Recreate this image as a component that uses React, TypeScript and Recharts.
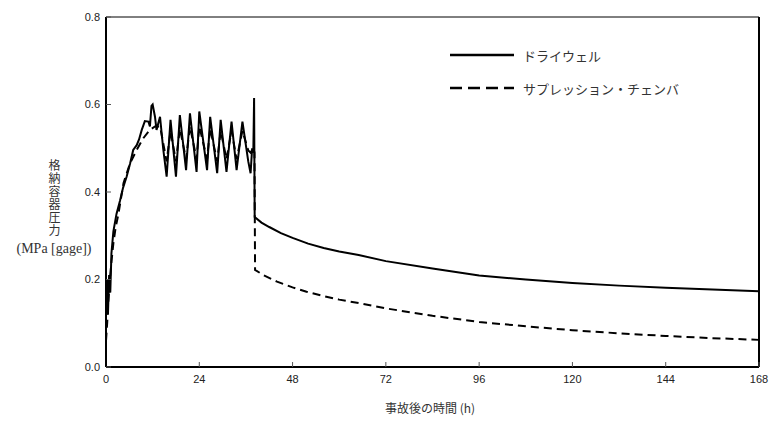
import { LineChart, Line, XAxis, YAxis, ReferenceArea, ReferenceLine, Legend } from "recharts";

// ドライウェル (solid)
const drywellHours = [
  0, 0.3, 0.5, 0.8, 1.1, 1.4, 1.9, 2.7, 3.6, 4.4, 5.3, 6.2, 7.0, 7.9, 8.5, 9.2, 10.0, 10.9, 11.3, 11.7,
  12.0, 12.6, 13.0, 13.9, 14.7, 15.6, 16.6, 18.0, 19.0, 20.6, 21.6, 23.3, 24.0, 26.0, 26.8, 28.6, 29.5,
  31.0, 32.3, 33.6, 35.1, 36.6, 37.2, 37.6, 37.9, 38.1, 38.25, 40, 42, 45, 48, 52, 56, 60, 65, 72, 84,
  96, 108, 120, 132, 144, 156, 168,
];
const drywellPressure = [
  0.13, 0.2, 0.12, 0.21, 0.17, 0.26, 0.31, 0.35, 0.38, 0.41, 0.435, 0.465, 0.496, 0.507, 0.52, 0.542,
  0.562, 0.561, 0.55, 0.597, 0.6, 0.572, 0.542, 0.572, 0.5, 0.435, 0.565, 0.435, 0.576, 0.45, 0.58,
  0.446, 0.584, 0.45, 0.572, 0.443, 0.565, 0.446, 0.561, 0.45, 0.561, 0.47, 0.443, 0.5, 0.49, 0.615,
  0.343, 0.33, 0.32, 0.306, 0.295, 0.282, 0.272, 0.264, 0.256, 0.242, 0.225, 0.209, 0.2, 0.192, 0.186,
  0.181, 0.177, 0.173,
];

// サプレッション・チェンバ (dashed)
const wetwellHours = [
  0, 0.3, 0.6, 1.0, 1.4, 1.9, 2.5, 3.2, 4.5, 6.2, 7.9, 9.6, 11.3, 12.6, 13.9, 15.6, 16.6, 18.0, 19.0,
  20.6, 21.6, 23.3, 24.0, 26.0, 26.8, 28.6, 29.5, 31.0, 32.3, 33.6, 35.1, 36.6, 37.2, 37.9, 38.2, 38.35,
  40.5, 44, 48, 51.6, 56, 60, 65, 72, 84, 96, 108, 120, 132, 144, 156, 168,
];
const wetwellPressure = [
  0.06, 0.1, 0.15, 0.2, 0.24, 0.283, 0.32, 0.35, 0.42, 0.466, 0.496, 0.523, 0.542, 0.55, 0.55, 0.47,
  0.54, 0.47, 0.545, 0.475, 0.55, 0.475, 0.55, 0.475, 0.545, 0.47, 0.54, 0.475, 0.54, 0.475, 0.54,
  0.495, 0.49, 0.5, 0.49, 0.222, 0.21, 0.195, 0.182, 0.172, 0.162, 0.154, 0.146, 0.134, 0.117, 0.103,
  0.093, 0.084, 0.077, 0.071, 0.066, 0.062,
];

const xTicks = [0, 24, 48, 72, 96, 120, 144, 168];
const yTicks = [0, 0.2, 0.4, 0.6, 0.8];
const seriesNames = ["ドライウェル", "サプレッション・チェンバ"];

const drywell = drywellHours.map((t, i) => ({ t, p: drywellPressure[i] }));
const wetwell = wetwellHours.map((t, i) => ({ t, p: wetwellPressure[i] }));

const tickFont = {
  fontFamily: "'Liberation Sans Narrow', 'Arial Narrow', 'Liberation Sans', sans-serif",
  fontSize: 11,
  fill: "#222",
};
const jp = "'Noto Sans CJK JP', sans-serif";

function LegendBox() {
  return (
    <svg width={290} height={62}>
      <line x1={2} y1={13} x2={66} y2={13} stroke="#000" strokeWidth={2.5} />
      <text x={75} y={13} dominantBaseline="central" fontFamily={jp} fontSize={13} fill="#333">
        {seriesNames[0]}
      </text>
      <line x1={2} y1={46} x2={66} y2={46} stroke="#000" strokeWidth={2.5} strokeDasharray="12 6" />
      <text x={75} y={46} dominantBaseline="central" fontFamily={jp} fontSize={13} fill="#333">
        {seriesNames[1]}
      </text>
    </svg>
  );
}

export default function App() {
  return (
    <div style={{ position: "absolute", left: 0, top: 0, width: 769, height: 422, background: "#fff" }}>
      <LineChart width={769} height={422} margin={{ top: 17, right: 10, bottom: 25, left: 0 }}>
        <XAxis
          dataKey="t"
          type="number"
          domain={[0, 168]}
          ticks={xTicks}
          allowDuplicatedCategory={false}
          axisLine={{ stroke: "#000", strokeWidth: 2 }}
          tickLine={{ stroke: "#555" }}
          tickSize={-5}
          tickMargin={13}
          tick={tickFont}
        />
        <YAxis
          type="number"
          domain={[0, 0.8]}
          ticks={yTicks}
          width={106}
          tickFormatter={(v: number) => v.toFixed(1)}
          axisLine={{ stroke: "#000", strokeWidth: 2 }}
          tickLine={{ stroke: "#555" }}
          tickSize={-5}
          tickMargin={11}
          tick={tickFont}
        />
        <ReferenceArea x1={0} x2={168} y1={0} y2={0.8} fill="none" stroke="#000" strokeWidth={1} />
        <ReferenceLine x={168} stroke="#000" strokeWidth={2} />
        <Legend
          layout="vertical"
          align="center"
          verticalAlign="middle"
          wrapperStyle={{ position: "absolute", left: 448, top: 42, width: 290, height: 62 }}
          content={() => <LegendBox />}
        />
        <Line
          data={wetwell}
          dataKey="p"
          name={seriesNames[1]}
          type="linear"
          stroke="#000"
          strokeWidth={2}
          strokeDasharray="8 5"
          dot={false}
          isAnimationActive={false}
        />
        <Line
          data={drywell}
          dataKey="p"
          name={seriesNames[0]}
          type="linear"
          stroke="#000"
          strokeWidth={2}
          dot={false}
          isAnimationActive={false}
        />
      </LineChart>
      <div
        style={{
          position: "absolute",
          left: 46,
          top: 159,
          writingMode: "vertical-rl",
          fontFamily: jp,
          fontSize: 12,
          letterSpacing: "1px",
          color: "#333",
        }}
      >
        格納容器圧力
      </div>
      <div
        style={{
          position: "absolute",
          left: 4,
          top: 241,
          width: 100,
          textAlign: "center",
          fontFamily: "'Liberation Serif', serif",
          fontSize: 14,
          color: "#333",
        }}
      >
        (MPa [gage])
      </div>
      <div
        style={{
          position: "absolute",
          left: 330,
          top: 399,
          width: 200,
          textAlign: "center",
          fontFamily: jp,
          fontSize: 12,
          color: "#333",
        }}
      >
        事故後の時間 (h)
      </div>
    </div>
  );
}
